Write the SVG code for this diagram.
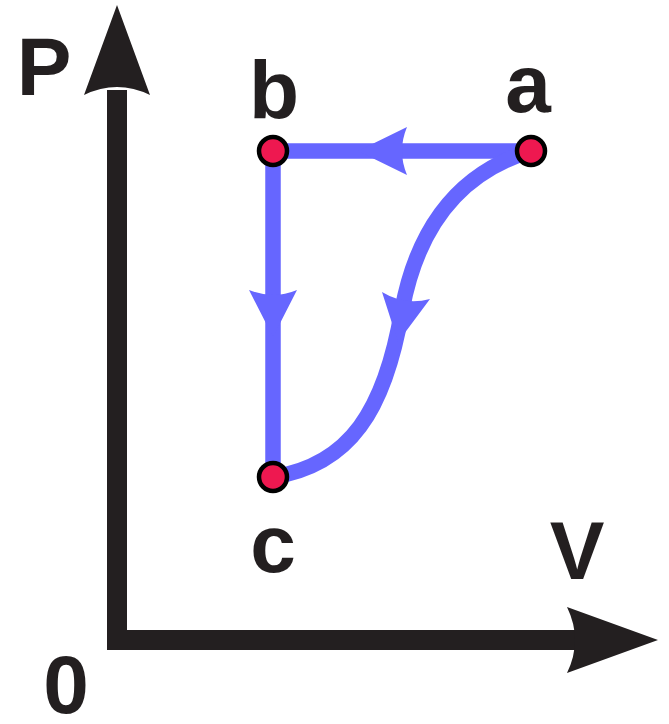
<svg xmlns="http://www.w3.org/2000/svg" width="669" height="724" viewBox="0 0 669 724">
<style>
.axis{fill:none;stroke:#231F20;stroke-width:20;stroke-linejoin:miter}
.axhead{fill:#231F20}
.edge{fill:none;stroke:#6666FF;stroke-width:15.5}
.ehead{fill:#6666FF}
.node{fill:#EE1850;stroke:#000;stroke-width:4.5}
.lbl{font-family:"Liberation Sans",Arial,sans-serif;font-weight:bold;font-size:82px;fill:#231F20;text-anchor:middle}
</style>
<rect width="669" height="724" fill="#fff"/>
<g id="axes">
<path class="axis" d="M117 90 V640 H580"/>
<path class="axhead" d="M117 5 L150 95 Q117 79 84 95 Z"/>
<path class="axhead" d="M658 640 L567 607 Q583 640 567 673 Z"/>
<text class="lbl" x="44" y="95">P</text>
<text class="lbl" x="577" y="579">V</text>
<text class="lbl" x="66" y="713">0</text>
</g>
<g id="connectors">
<path class="edge" d="M531 151 H273"/>
<path class="ehead" d="M358 151 L407 127 Q397 151 407 175 Z"/>
<path class="edge" d="M273 151 V477"/>
<path class="ehead" d="M273 337 L297 290 Q273 300 249 290 Z"/>
<path class="edge" d="M531 151 C450 175 415 240 402 310 C385 410 350 465 273 477"/>
<path class="ehead" d="M398 342 L430 299 Q405 306 382 292 Z"/>
</g>
<g id="node-a">
<circle class="node" cx="531" cy="151" r="14"/>
<text class="lbl" x="528" y="112">a</text>
</g>
<g id="node-b">
<circle class="node" cx="273" cy="151" r="14"/>
<text class="lbl" x="274" y="118">b</text>
</g>
<g id="node-c">
<circle class="node" cx="273" cy="477" r="14"/>
<text class="lbl" x="273" y="572">c</text>
</g>
</svg>
